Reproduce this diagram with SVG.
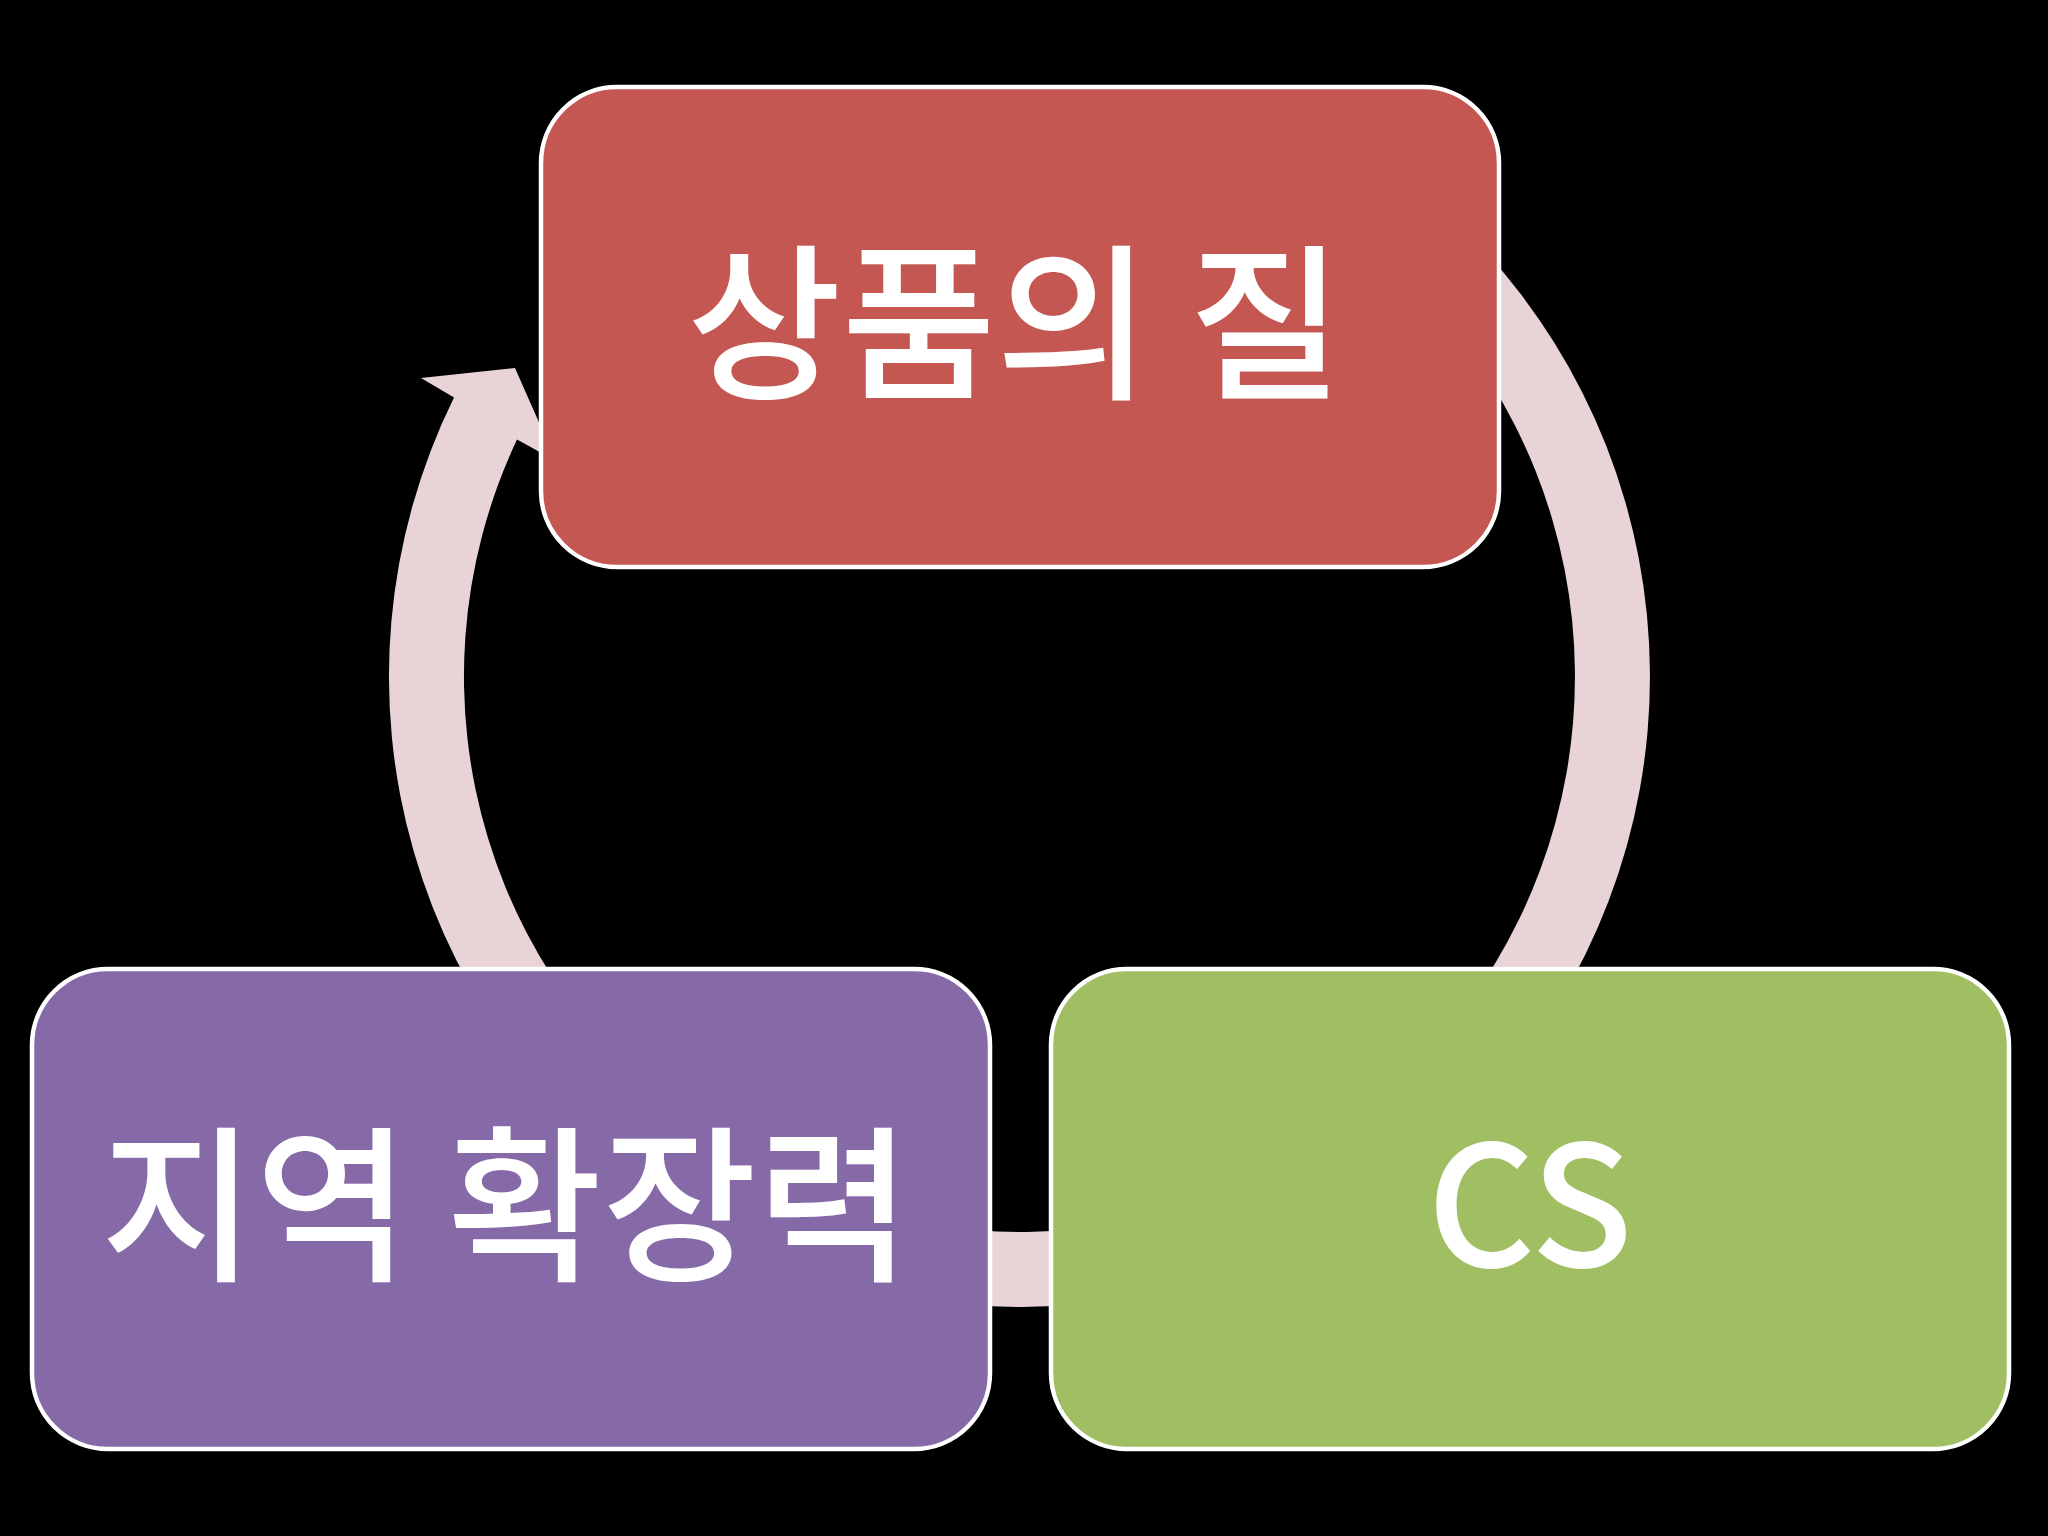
<svg xmlns="http://www.w3.org/2000/svg" width="2048" height="1536" viewBox="0 0 2048 1536">
  <style>
    .box { stroke: #FFFFFF; stroke-width: 4.5; }
    .lbl { fill: #FFFFFF; font-family: "Noto Sans CJK KR", "Malgun Gothic", "Noto Sans", sans-serif; font-size: 168px; font-weight: 500; text-anchor: middle; }
  </style>
  <rect x="0" y="0" width="2048" height="1536" fill="#000000"/>
  <g id="connectors">
    <path id="cycle-arrow" fill="#E8D3D7" d="M 421 378 L 515 368 L 556 461 L 517 439.6 A 555.5 555.5 0 1 0 1391.2 263.7 L 1441.4 208 A 630.5 630.5 0 1 1 454 397.6 Z"/>
  </g>
  <g id="node-quality">
    <rect class="box" x="541" y="87" width="958" height="480" rx="76" ry="76" fill="#C55753"/>
    <text class="lbl" x="1015" y="386">상품의 질</text>
  </g>
  <g id="node-region">
    <rect class="box" x="32" y="969" width="958" height="480" rx="76" ry="76" fill="#866AA8"/>
    <text class="lbl" x="506" y="1268">지역 확장력</text>
  </g>
  <g id="node-cs">
    <rect class="box" x="1051" y="969" width="958" height="480" rx="76" ry="76" fill="#A0BF62"/>
    <text class="lbl" x="1530" y="1267">CS</text>
  </g>
</svg>
